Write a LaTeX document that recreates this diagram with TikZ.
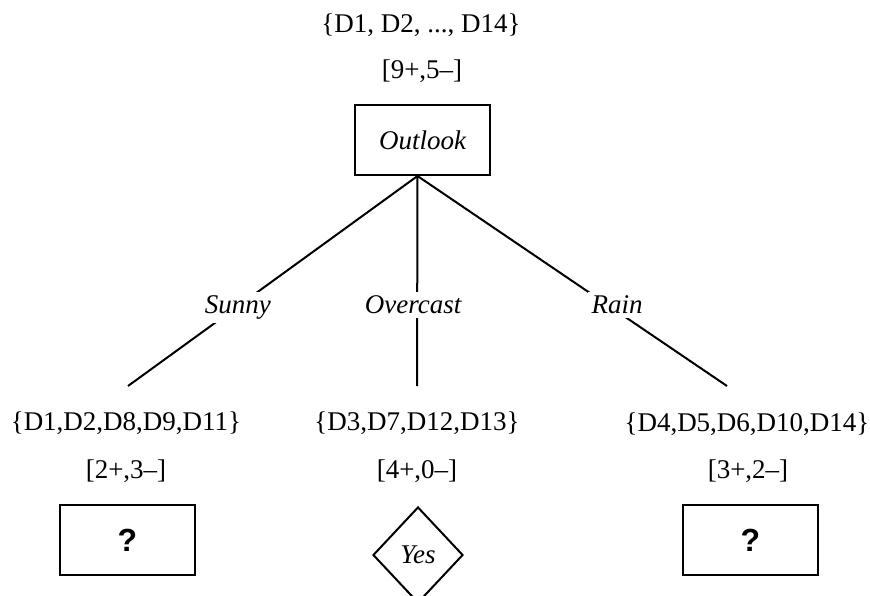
\documentclass[tikz,border=0pt]{standalone}
\usepackage{fontspec}
\setmainfont{Liberation Serif}
\newfontfamily\qfont{Liberation Sans}
\usetikzlibrary{shapes.geometric}
\begin{document}
\begin{tikzpicture}[x=1pt,y=-1pt,
  txt/.style={anchor=base,inner sep=0pt,font=\fontsize{27}{31}\selectfont},
  lbl/.style={fill=white,inner sep=4pt,anchor=base,font=\fontsize{27}{31}\selectfont\itshape},
  box/.style={draw,line width=2pt,minimum width=135pt,minimum height=70pt,inner sep=0pt},
  qbox/.style={box,font=\qfont\bfseries\fontsize{32}{36}\selectfont},
  leaf/.style={draw,diamond,line width=2pt,minimum width=90pt,minimum height=96pt,inner sep=0pt,font=\fontsize{27}{31}\selectfont\itshape},
  edge/.style={line width=2pt}]
\useasboundingbox (0,0) rectangle (870,596);

\node[txt] (all) at (421,33) {\{D1, D2, ..., D14\}};
\node[txt] (allc) at (422,79) {[9+,5–]};
\node[box,font=\fontsize{27}{31}\selectfont\itshape] (outlook) at (422.5,140) {Outlook};

\coordinate (e1) at (128,386);
\coordinate (e2) at (417,386);
\coordinate (e3) at (727,386);

\node[txt] (s1) at (126,430) {\{D1,D2,D8,D9,D11\}};
\node[txt] (c1) at (126,478) {[2+,3–]};
\node[qbox] (q1) at (127.5,540) {?};

\node[txt] (s2) at (417,430) {\{D3,D7,D12,D13\}};
\node[txt] (c2) at (417,478) {[4+,0–]};
\node[leaf] (yes) at (418,555) {Yes};

\node[txt] (s3) at (747,431) {\{D4,D5,D6,D10,D14\}};
\node[txt] (c3) at (748,478) {[3+,2–]};
\node[qbox] (q3) at (750.5,540) {?};

\draw[edge] ([xshift=-5pt]outlook.south) -- node[lbl,pos=0.655,xshift=10pt] {Sunny} (e1);
\draw[edge] ([xshift=-5pt]outlook.south) -- node[lbl,pos=0.655,xshift=-4pt] {Overcast} (e2);
\draw[edge] ([xshift=-5pt]outlook.south) -- node[lbl,pos=0.655,xshift=-3pt] {Rain} (e3);
\end{tikzpicture}
\end{document}
